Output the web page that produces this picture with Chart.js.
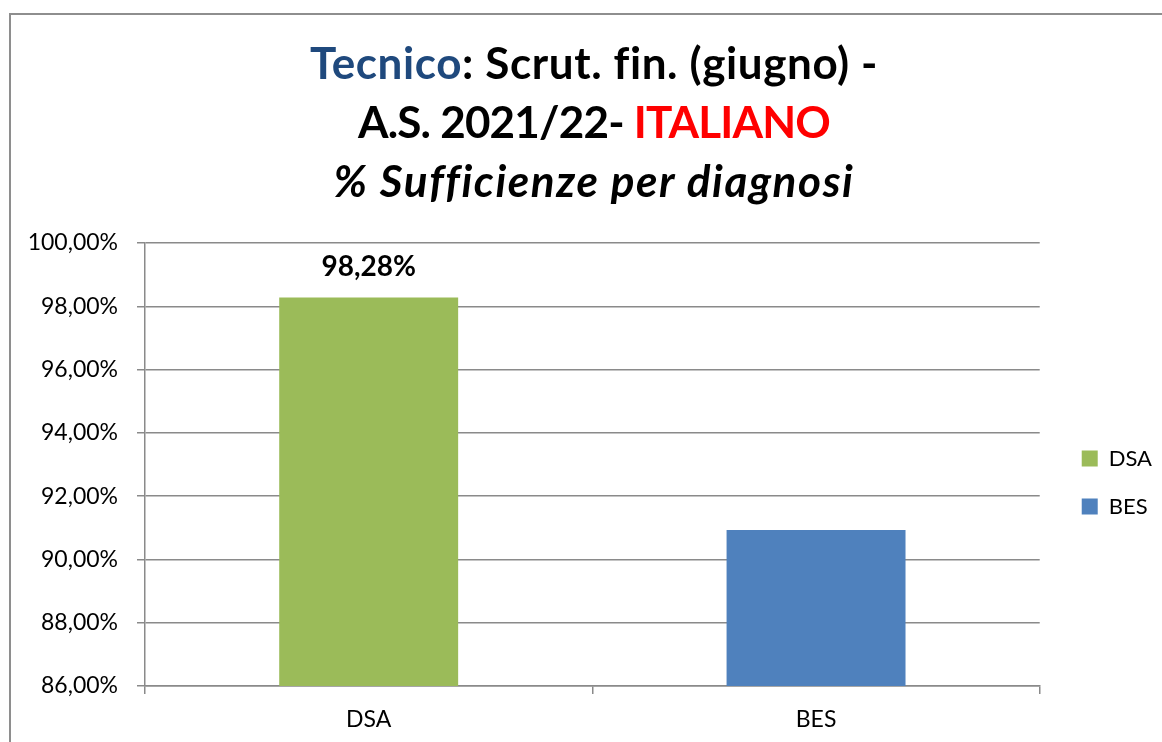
<!DOCTYPE html>
<html>
<head>
<meta charset="utf-8">
<script src="https://cdn.jsdelivr.net/npm/chart.js@4/dist/chart.umd.min.js"></script>
<style>
    html, body { margin: 0; padding: 0; background: #fff; overflow: hidden; }
    #wrap { position: relative; width: 1162px; height: 742px; }
    #frame { position: absolute; left: 9px; top: 13px; width: 1200px; height: 800px;
             border-left: 2px solid #8e8e8e; border-top: 2px solid #8e8e8e; }
    #title { position: absolute; left: 0; top: 33px; width: 1188px; text-align: center;
             font-family: Lato, sans-serif; font-weight: bold; font-size: 44px; line-height: 59px; color: #000; }
    #title .l1 { letter-spacing: 0.6px; }
    #title .l2 { letter-spacing: -0.8px; }
    #title .l3 { letter-spacing: 1.6px; }
    #title .blue { color: #1F497D; }
    #title .red { color: #FF0000; }
    #chartSuff { position: absolute; left: 0; top: 0; }
</style>
</head>
<body>
<div id="wrap">
    <div id="frame"></div>
    <canvas id="chartSuff" width="1162" height="742"></canvas>
    <div id="title">
        <div class="l1"><span class="blue">Tecnico</span>: Scrut. fin. (giugno) -</div>
        <div class="l2">A.S. 2021/22- <span class="red">ITALIANO</span></div>
        <div class="l3"><i>% Sufficienze per diagnosi</i></div>
    </div>
</div>
<script>
// data
var categories = ['DSA', 'BES'];
var values = [98.28, 90.93];
var barColors = ['#9BBB59', '#4F81BD'];
var showValue = [true, false];
var yMin = 86, yMax = 100, yStep = 2;

function pct(v) {
    return v.toFixed(2).replace('.', ',') + '%';
}

var gridColor = '#8a8a8a';

// value label above bars
var valueLabels = {
    id: 'valueLabels',
    afterDatasetsDraw: function (chart) {
        var ctx = chart.ctx;
        var meta = chart.getDatasetMeta(0);
        ctx.save();
        ctx.font = 'bold 28px Lato';
        ctx.fillStyle = '#000';
        ctx.textAlign = 'center';
        ctx.textBaseline = 'middle';
        meta.data.forEach(function (bar, i) {
            if (!showValue[i]) return;
            ctx.fillText(pct(values[i]), bar.x, bar.y - 30);
        });
        ctx.restore();
    }
};

var ctx = document.getElementById('chartSuff').getContext('2d');
var chartSuff = new Chart(ctx, {
    type: 'bar',
    data: {
        labels: categories,
        datasets: [{
            label: '% Sufficienze',
            data: values,
            backgroundColor: barColors,
            borderWidth: 0,
            barPercentage: 0.4,
            categoryPercentage: 1
        }]
    },
    options: {
        responsive: false,
        animation: false,
        devicePixelRatio: 1,
        layout: { padding: { top: 243, left: 0, right: 0, bottom: 6 } },
        plugins: {
            tooltip: { enabled: false },
            legend: {
                position: 'right',
                fullSize: false,
                // blank title only shifts the entries down a bit
                title: { display: true, text: ' ', padding: 0, font: { family: 'Lato', size: 36, lineHeight: 1 } },
                labels: {
                    font: { family: 'Lato', size: 22 },
                    color: '#000',
                    boxWidth: 16,
                    boxHeight: 16,
                    padding: 26,
                    generateLabels: function (chart) {
                        return categories.map(function (c, i) {
                            return {
                                text: c,
                                fillStyle: barColors[i],
                                strokeStyle: barColors[i],
                                lineWidth: 0,
                                fontColor: '#000',
                                index: i
                            };
                        });
                    }
                }
            }
        },
        scales: {
            x: {
                grid: { display: true, drawOnChartArea: false, drawTicks: true, tickLength: 8, color: gridColor, lineWidth: 1.5 },
                border: { display: true, color: gridColor, width: 1.5 },
                ticks: { font: { family: 'Lato', size: 23 }, color: '#000', padding: 12 },
                afterFit: function (s) { s.height = 50; }
            },
            y: {
                min: yMin,
                max: yMax,
                grid: { color: gridColor, lineWidth: 1.5, tickLength: 8 },
                border: { display: true, color: gridColor, width: 1.5 },
                ticks: {
                    stepSize: yStep,
                    font: { family: 'Lato', size: 23 },
                    color: '#000',
                    padding: 19,
                    callback: function (v) { return pct(v); }
                },
                afterFit: function (s) { s.width = 145; }
            },
            spacer: {
                type: 'linear',
                position: 'right',
                display: true,
                ticks: { display: false },
                grid: { display: false, drawTicks: false },
                border: { display: false },
                afterFit: function (s) { s.width = 16; }
            }
        }
    },
    plugins: [valueLabels]
});
</script>
</body>
</html>
